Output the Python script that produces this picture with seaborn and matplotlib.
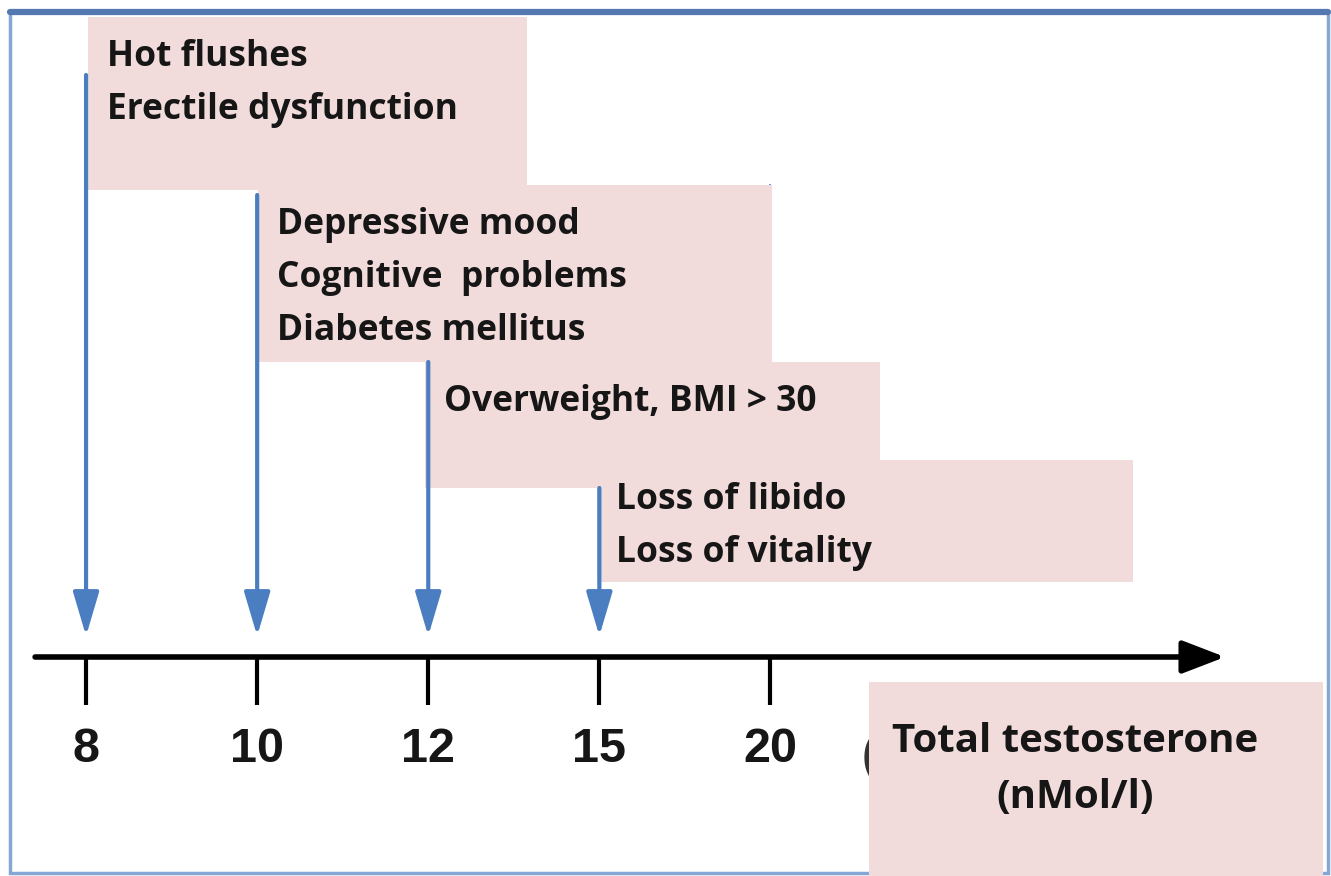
"""
Testosterone thresholds and symptoms - recreated diagram
"""
import matplotlib
matplotlib.use('Agg')
import matplotlib.pyplot as plt
from matplotlib import font_manager
from matplotlib.patches import Rectangle
import seaborn as sns

# ============================================================================
# DATA
# ============================================================================
thresholds = ['8', '10', '12', '15', '20']
symptoms = [
    ['Hot flushes', 'Erectile dysfunction'],
    ['Depressive mood', 'Cognitive  problems', 'Diabetes mellitus'],
    ['Overweight, BMI > 30'],
    ['Loss of libido', 'Loss of vitality'],
]
axis_title = ['Total testosterone', '(nMol/l)']

# ============================================================================
# LAYOUT (x in threshold index units, y in pixels above the axis line)
# ============================================================================
box_x0 = [0.012, 1.005, 1.981, 2.987]
box_x1 = [2.577, 4.009, 4.640, 6.119]
box_top = [640, 472, 295, 197]
box_bottom = [467, 295, 169, 75]
arrow_start = [582, 462, 295, 169]
arrow_tip = 21
line_step = 53

pink = '#F2DCDB'
blue = '#4A7EC0'
ink = '#161616'

sns.set_theme(style='white')
names = {f.name for f in font_manager.fontManager.ttflist}
if 'Liberation Sans Narrow' in names:
    num_font, num_size = 'Liberation Sans Narrow', 42
else:
    num_font, num_size = 'Liberation Sans', 35
box_font = ['Open Sans', 'DejaVu Sans']

fig = plt.figure(figsize=(13.31, 8.76), dpi=100)
ax = fig.add_axes([0, 0, 1, 1])
ax.set_xlim(-0.503, 7.276)
ax.set_ylim(-219, 657)
ax.set_facecolor('white')

# frame around the slide
ax.add_patch(Rectangle((0.0075, 0.0034), 0.990, 0.9826, transform=ax.transAxes,
                       fill=False, edgecolor='#86A6D6', lw=2.5, zorder=0))
ax.plot([0.0075, 0.998], [0.986, 0.986], transform=ax.transAxes,
        color='#5478B0', lw=4.5, zorder=0)

# symptom boxes
for i, lines in enumerate(symptoms):
    ax.add_patch(Rectangle((box_x0[i], box_bottom[i]), box_x1[i] - box_x0[i],
                           box_top[i] - box_bottom[i], facecolor=pink,
                           edgecolor='none', zorder=2))
    for j, txt in enumerate(lines):
        ax.text(box_x0[i] + 0.11, box_top[i] - 40 - j * line_step, txt,
                ha='left', va='center', fontsize=25.5, fontweight='bold',
                family=box_font, color=ink, zorder=4)

# thin blue line at 20 behind the edge of box 2
ax.plot([4, 4], [472, 302], color=blue, lw=1.5, zorder=1)

# arrows down to each threshold
for i in range(len(symptoms)):
    ax.annotate('', xy=(i, arrow_tip), xytext=(i, arrow_start[i]),
                arrowprops=dict(arrowstyle='-|>,head_length=1.35,head_width=0.4',
                                mutation_scale=20, lw=3, color=blue,
                                shrinkA=0, shrinkB=0), zorder=3)

# horizontal axis arrow
ax.annotate('', xy=(6.657, 0), xytext=(-0.298, 0),
            arrowprops=dict(arrowstyle='-|>,head_length=1.3,head_width=0.5',
                            mutation_scale=20, lw=4, color='black',
                            shrinkA=0, shrinkB=0), zorder=3)

# ticks and tick labels through the axis itself
ax.set_yticks([])
ax.spines['bottom'].set_position(('data', 0))
for s in ax.spines.values():
    s.set_visible(False)
ax.tick_params(axis='x', direction='out', length=34.5, width=3, pad=16,
               color='black', bottom=True, labelsize=num_size,
               labelcolor=ink)
ax.set_xticks(range(len(thresholds)))
ax.set_xticklabels(thresholds, fontsize=num_size, fontweight='bold',
                   family=num_font, color=ink)

# partly hidden bracket behind the axis title box
ax.text(4.535, -100, '(', ha='left', va='center', fontsize=num_size,
        fontweight='bold', family=num_font, color='#333333', zorder=1)

# axis title box
ax.add_patch(Rectangle((4.576, -219), 7.23 - 4.576, 194, facecolor=pink,
                       edgecolor='none', zorder=2))
for j, txt in enumerate(axis_title):
    ax.text(5.78, -84 - j * 56, txt, ha='center', va='center', fontsize=29,
            fontweight='bold', family=box_font, color=ink, zorder=4)

plt.savefig('out.png', dpi=100)
plt.close()
